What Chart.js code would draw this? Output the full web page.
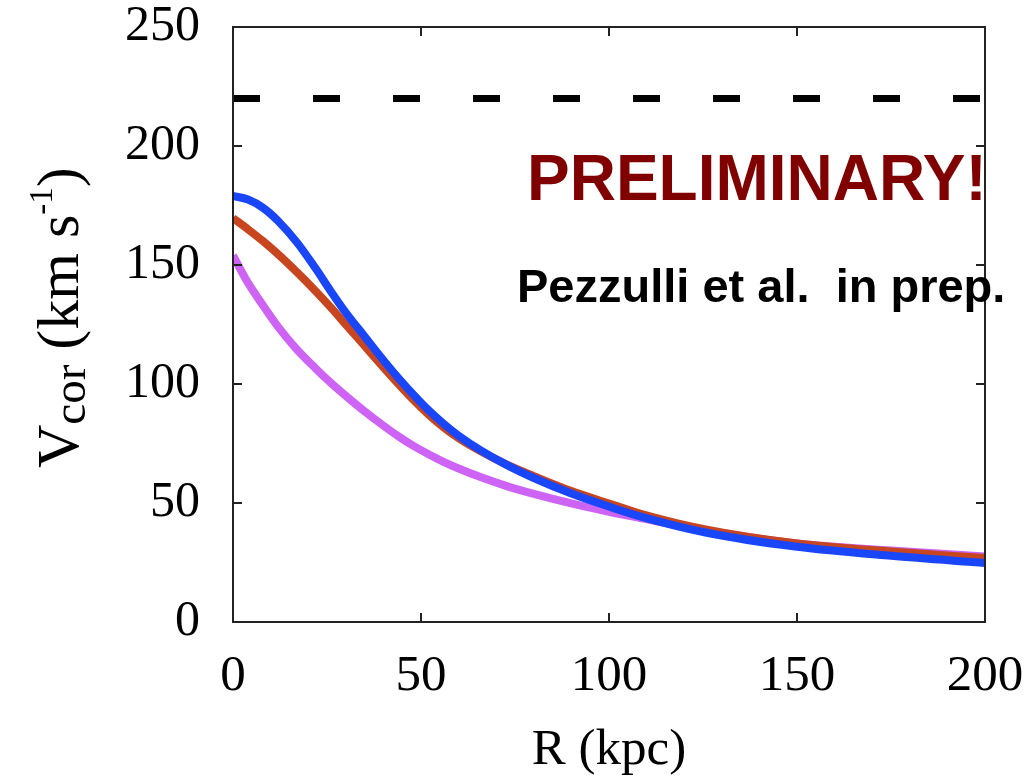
<!DOCTYPE html>
<html>
<head>
<meta charset="utf-8">
<script src="https://cdn.jsdelivr.net/npm/chart.js@4/dist/chart.umd.min.js"></script>
<style>
  html, body { margin: 0; padding: 0; background: #fff; }
</style>
</head>
<body>
<canvas id="chart" width="1032" height="781"></canvas>
<script>
  // radius in kpc and the three corona velocity curves (km/s)
  const radius = [0, 4, 8, 12, 17, 22, 26, 30, 35, 40, 44, 48, 52, 56, 60, 66, 73, 80, 90, 100, 108, 126, 150, 175, 200];
  const vBlue = [179, 177.5, 174, 168.5, 159.5, 148.5, 139, 130, 120, 110, 102.5, 95.5, 89, 83.3, 78.3, 72, 65.8, 60.5, 54, 48.5, 44.5, 37.5, 31.6, 27.8, 24.8];
  const vRed = [169.7, 165, 160, 154.5, 147, 139, 132.2, 125, 116, 107, 100, 93.3, 87.2, 81.8, 77.2, 71.6, 66, 61.3, 55, 49.8, 45.7, 38.8, 33, 29.6, 26.9];
  const vPurple = [154, 142.5, 133, 124, 114.5, 106.5, 100.5, 95, 88.5, 82.5, 78, 74, 70.5, 67.3, 64.5, 60.8, 57, 53.8, 49.8, 46.3, 43.8, 38.5, 33, 30, 27.5];
  const refRadius = [0, 200];
  const refSpeed = [220, 220];

  const xTicks = [0, 50, 100, 150, 200];
  const yTicks = [0, 50, 100, 150, 200, 250];

  const SERIF = "'Liberation Serif', 'Times New Roman', serif";
  const SANS = "'Liberation Sans', Arial, sans-serif";

  function points(xs, ys) {
    return xs.map((x, i) => ({ x: x, y: ys[i] }));
  }

  function curve(values, color, order) {
    return {
      data: points(radius, values),
      borderColor: color,
      borderWidth: 8,
      pointRadius: 0,
      cubicInterpolationMode: "monotone",
      fill: false,
      clip: 0,
      order: order
    };
  }

  // boxed axes with inward ticks on all four sides
  const frame = {
    id: "frame",
    afterDatasetsDraw(chart) {
      const { ctx, chartArea: a, scales } = chart;
      ctx.save();
      ctx.strokeStyle = "#222";
      ctx.lineWidth = 2;
      ctx.beginPath();
      xTicks.forEach(v => {
        const px = scales.x.getPixelForValue(v);
        ctx.moveTo(px, a.bottom); ctx.lineTo(px, a.bottom - 9);
        ctx.moveTo(px, a.top); ctx.lineTo(px, a.top + 9);
      });
      yTicks.forEach(v => {
        const py = scales.y.getPixelForValue(v);
        ctx.moveTo(a.left, py); ctx.lineTo(a.left + 9, py);
        ctx.moveTo(a.right, py); ctx.lineTo(a.right - 9, py);
      });
      ctx.stroke();
      ctx.strokeRect(a.left, a.top, a.right - a.left, a.bottom - a.top);
      ctx.restore();
    }
  };

  // y title with subscript / superscript, plus the two notes
  const labels = {
    id: "labels",
    afterDraw(chart) {
      const ctx = chart.ctx;
      ctx.save();
      ctx.fillStyle = "#000";
      ctx.textBaseline = "alphabetic";
      ctx.textAlign = "left";

      ctx.save();
      ctx.translate(78, 468);
      ctx.rotate(-Math.PI / 2);
      let cx = 0;
      const part = (t, size, dy) => {
        ctx.font = size + "px " + SERIF;
        ctx.fillText(t, cx, dy);
        cx += ctx.measureText(t).width;
      };
      part("V", 60, 0);
      part("cor", 47, 7);
      part(" (km s", 60, 0);
      part("-1", 33, -26);
      part(")", 60, 0);
      ctx.restore();

      ctx.fillStyle = "#800000";
      ctx.font = "bold 64px " + SANS;
      ctx.fillText("PRELIMINARY!", 527, 200);

      ctx.fillStyle = "#000";
      ctx.font = "bold 47px " + SANS;
      ctx.fillText("Pezzulli et al.  in prep.", 517, 302);
      ctx.restore();
    }
  };

  new Chart(document.getElementById("chart"), {
    type: "line",
    data: {
      datasets: [
        curve(vBlue, "#1a46fa", 0),
        curve(vRed, "#c8461f", 1),
        curve(vPurple, "#cd64f5", 2),
        {
          data: points(refRadius, refSpeed),
          borderColor: "#000",
          borderWidth: 7,
          borderDash: [27, 53],
          borderCapStyle: "butt",
          pointRadius: 0,
          clip: 0,
          order: 3
        }
      ]
    },
    options: {
      responsive: false,
      animation: false,
      layout: { padding: { left: 0, top: 27, right: 47, bottom: 0 } },
      plugins: { legend: { display: false }, tooltip: { enabled: false } },
      scales: {
        x: {
          type: "linear",
          min: 0,
          max: 200,
          grid: { display: false, drawTicks: false },
          border: { display: false },
          ticks: {
            stepSize: 50,
            padding: 29,
            color: "#000",
            maxRotation: 0,
            font: { family: SERIF, size: 51, lineHeight: 1 }
          },
          title: {
            display: true,
            text: "R (kpc)",
            color: "#000",
            padding: 0,
            font: { family: SERIF, size: 51, lineHeight: 1.2 }
          },
          afterFit(scale) {
            scale.height = 159;
            scale.paddingLeft = 0;
            scale.paddingRight = 0;
          }
        },
        y: {
          min: 0,
          max: 250,
          grid: { display: false, drawTicks: false },
          border: { display: false },
          ticks: {
            stepSize: 50,
            padding: 33,
            color: "#000",
            font: { family: SERIF, size: 50, lineHeight: 1 }
          },
          afterFit(scale) {
            scale.width = 233;
            scale.paddingTop = 0;
            scale.paddingBottom = 0;
          }
        }
      }
    },
    plugins: [frame, labels]
  });
</script>
</body>
</html>
